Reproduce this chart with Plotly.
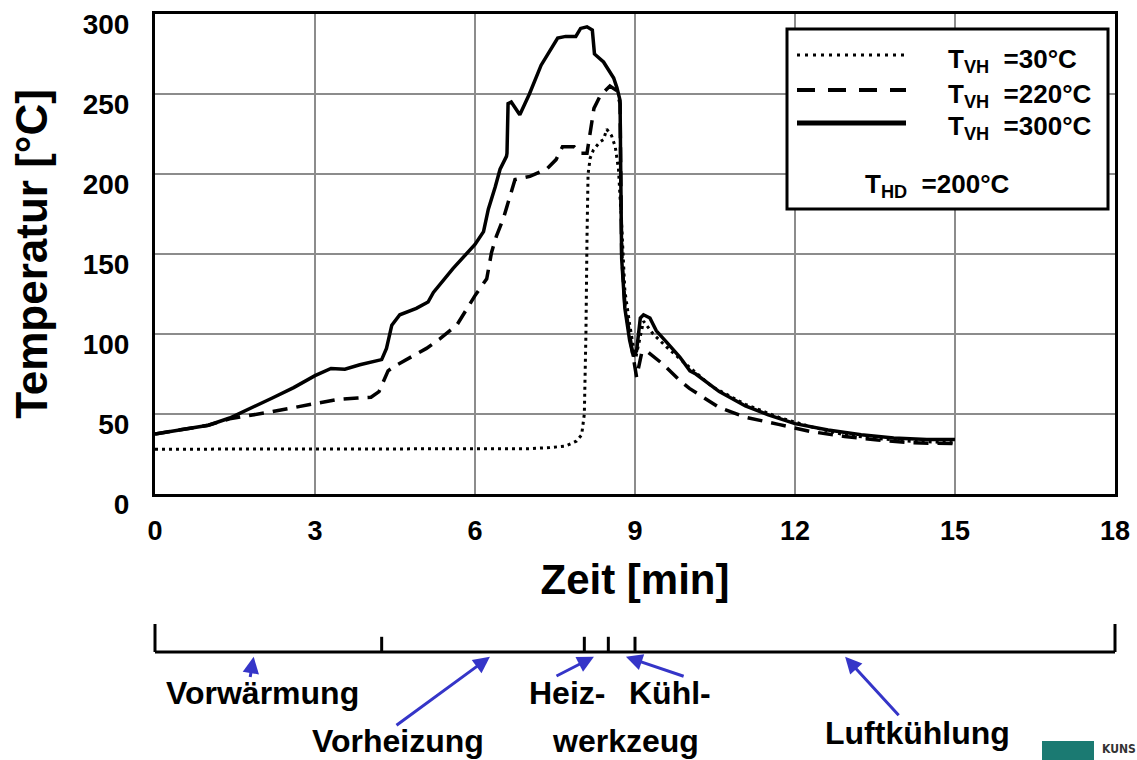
import plotly.graph_objects as go

# ---------------- data ----------------
t_300 = [0.0, 0.3, 0.6, 1.0, 1.4, 1.8, 2.2, 2.6, 3.0, 3.3, 3.56, 3.84, 4.09, 4.25, 4.34, 4.44,
         4.59, 4.9, 5.12, 5.22, 5.59, 6.0, 6.16, 6.25, 6.38, 6.47, 6.59, 6.6, 6.62, 6.68, 6.84,
         7.02, 7.24, 7.55, 7.70, 7.89, 7.98, 8.1, 8.2, 8.24, 8.41, 8.6, 8.66, 8.72, 8.73, 8.75,
         8.81, 8.9, 8.97, 9.03, 9.1, 9.16, 9.28, 9.4, 9.6, 9.84, 10.03, 10.14, 10.58, 11.07,
         11.5, 12.0, 12.62, 13.24, 13.85, 14.47, 15.0]
T_300 = [37.5, 39, 40.5, 43, 47.5, 53.5, 60, 66.5, 74, 78.5, 78, 80.8, 83, 84, 91, 105.5,
         112, 116, 120, 126, 141, 156, 164, 178, 192, 203, 211, 213, 244, 245, 237,
         250, 268, 285, 286, 286, 291, 292, 290, 275, 270, 260, 254, 246, 209, 147,
         116, 96, 86, 89.5, 110, 112, 110, 102, 94.6, 85.6, 77, 75, 64, 55,
         49.5, 44, 40, 37, 35, 34, 34]

t_220 = [0.0, 0.3, 0.6, 1.0, 1.4, 1.8, 2.2, 2.6, 3.0, 3.4, 3.8, 4.05, 4.2, 4.3, 4.37, 4.5,
         4.66, 5.09, 5.34, 5.66, 6.0, 6.22, 6.31, 6.4, 6.53, 6.66, 6.75, 7.03, 7.34, 7.52,
         7.64, 7.86, 7.98, 8.1, 8.16, 8.23, 8.35, 8.53, 8.66, 8.72, 8.73, 8.75, 8.81, 8.9,
         8.97, 9.03, 9.08, 9.13, 9.25, 9.53, 9.84, 10.02, 10.58, 11.07, 11.69, 12.3, 12.93,
         13.55, 14.16, 15.0]
T_220 = [37.5, 39, 40.5, 43, 47, 49, 51.5, 54, 56.5, 59, 60, 60.5, 64, 72, 77, 80,
         83, 91, 97, 105.6, 124, 134.5, 151, 161, 172, 186, 196.5, 198.5, 203, 209,
         217, 217, 213, 213, 227, 241, 249, 255, 252, 244, 209, 150, 118, 98,
         85, 73, 80, 89, 88.5, 81, 71, 66, 54, 48, 43.5, 39, 36,
         33.7, 32, 31.5]

t_30 = [0.0, 1.0, 2.0, 3.0, 4.0, 5.0, 6.0, 7.0, 7.4, 7.7, 7.9, 8.0, 8.05, 8.08, 8.1, 8.12,
        8.16, 8.22, 8.34, 8.41, 8.47, 8.56, 8.63, 8.69, 8.75, 8.81, 8.9, 8.97, 9.02, 9.08,
        9.16, 9.34, 9.6, 9.96, 10.45, 11.07, 11.69, 12.3, 12.93, 13.55, 14.16, 15.0]
T_30 = [28, 28, 28, 28, 28, 28, 28, 28.3, 29, 30, 33, 37, 50, 100, 160, 200,
        210, 215, 220, 221.5, 228, 224, 217, 203, 168, 127, 106, 92, 86, 95,
        108, 100, 91.6, 81, 67, 56, 48, 42, 37, 34.7, 33, 32]

series_names = ["T<sub>VH</sub>  =30°C", "T<sub>VH</sub>  =220°C", "T<sub>VH</sub>  =300°C"]
note_text = "T<sub>HD</sub>  =200°C"

x_ticks = [0, 3, 6, 9, 12, 15, 18]
y_ticks = [0, 50, 100, 150, 200, 250, 300]

# process phases (bottom time bar)
phase_bounds = [0, 4.25, 8.05, 8.5, 9.0, 18]
arrow_head_t = [1.85, 6.28, 8.23, 8.83, 12.94]
arrow_tail_t = [1.78, 4.5, 7.5, 9.94, 13.97]
phase_labels = ["Vorwärmung", "Vorheizung", "Heiz-", "Kühl-", "werkzeug", "Luftkühlung"]

# ---------------- layout helpers (pixels -> paper) ----------------
W, H = 1137, 760
def px(x):
    return x / W
def py(y):
    return 1 - y / H

FONT = "Liberation Sans, Arial, sans-serif"
BLUE = "#3535c8"

fig = go.Figure()

styles = [dict(dash="3px,4px", width=3), dict(dash="15px,9px", width=3.5), dict(dash="solid", width=3.5)]
for tt, TT, nm, st in zip([t_30, t_220, t_300], [T_30, T_220, T_300], series_names, styles):
    fig.add_trace(go.Scatter(x=tt, y=TT, mode="lines", name=nm,
                             line=dict(color="black", width=st["width"], dash=st["dash"]),
                             xaxis="x", yaxis="y", showlegend=False))

# time bar on a second (hidden) axis pair sharing the same time scale
BASE = 0.675
END_TOP = 0.85
MID_TOP = 0.77
bx, by = [], []
for i, b in enumerate(phase_bounds):
    top = END_TOP if i in (0, len(phase_bounds) - 1) else MID_TOP
    bx += [b, b, None]
    by += [BASE, top, None]
bx += [phase_bounds[0], phase_bounds[-1]]
by += [BASE, BASE]
fig.add_trace(go.Scatter(x=bx, y=by, mode="lines", line=dict(color="black", width=3),
                         xaxis="x2", yaxis="y2", showlegend=False, hoverinfo="skip"))

ann = []
tail_y = [0.51, 0.21, 0.52, 0.52, 0.27]
for h, tl, ty in zip(arrow_head_t, arrow_tail_t, tail_y):
    ann.append(dict(x=h, y=0.645, xref="x2", yref="y2", ax=tl, ay=ty, axref="x2", ayref="y2",
                    text="", showarrow=True, arrowhead=2, arrowsize=1.1, arrowwidth=3,
                    arrowcolor=BLUE, standoff=0, startstandoff=0))

label_pos = [(262, 693), (398, 741), (567, 693), (670, 693), (625, 741), (918, 733)]
for lab, (lx, ly) in zip(phase_labels, label_pos):
    ann.append(dict(x=px(lx), y=py(ly), xref="paper", yref="paper", text=lab, showarrow=False,
                    xanchor="center", yanchor="middle",
                    font=dict(family=FONT, size=32, color="black", weight="bold")))

# legend box contents
legend_rows_y = [61, 95, 128]
for nm, ry in zip(series_names, legend_rows_y):
    ann.append(dict(x=px(946), y=py(ry), xref="paper", yref="paper", text=nm, showarrow=False,
                    xanchor="left", yanchor="middle",
                    font=dict(family=FONT, size=26, color="black", weight="bold")))
ann.append(dict(x=px(863), y=py(185), xref="paper", yref="paper", text=note_text, showarrow=False,
                xanchor="left", yanchor="middle",
                font=dict(family=FONT, size=26, color="black", weight="bold")))

# logo fragment
ann.append(dict(x=px(1100), y=py(749), xref="paper", yref="paper", text="KUNS", showarrow=False,
                xanchor="left", yanchor="middle",
                font=dict(family="DejaVu Sans Condensed, Liberation Sans Narrow, sans-serif",
                          size=12, color="#333333", weight="bold")))

shapes = [
    dict(type="rect", xref="paper", yref="paper", x0=px(787), y0=py(29), x1=px(1108), y1=py(209),
         line=dict(color="black", width=3), fillcolor="white", layer="above"),
    dict(type="line", xref="paper", yref="paper", x0=px(797), x1=px(906), y0=py(55), y1=py(55),
         line=dict(color="black", width=3, dash="3px,5px")),
    dict(type="line", xref="paper", yref="paper", x0=px(797), x1=px(906), y0=py(90), y1=py(90),
         line=dict(color="black", width=4, dash="18px,13px")),
    dict(type="line", xref="paper", yref="paper", x0=px(797), x1=px(906), y0=py(123), y1=py(123),
         line=dict(color="black", width=5)),
    dict(type="rect", xref="paper", yref="paper", x0=px(1042), y0=py(741), x1=px(1094), y1=py(762),
         line=dict(width=0), fillcolor="#1b7a72"),
]

fig.update_layout(
    width=W, height=H,
    margin=dict(l=0, r=0, t=0, b=0, autoexpand=False),
    paper_bgcolor="white", plot_bgcolor="white",
    showlegend=False,
    xaxis=dict(domain=[px(155), px(1115)], range=[0, 18], tickvals=x_ticks, anchor="y",
               showgrid=True, gridcolor="#8c8c8c", gridwidth=2, zeroline=False,
               showline=True, linecolor="black", linewidth=3, mirror=True, ticks="",
               ticklabelstandoff=11, ticklabeloverflow="allow",
               tickfont=dict(family=FONT, size=27, color="black", weight="bold"),
               title=dict(text="Zeit [min]", standoff=20,
                          font=dict(family=FONT, size=42, color="black", weight="bold"))),
    yaxis=dict(domain=[py(494), py(14)], range=[0, 300], tickvals=y_ticks, anchor="x",
               showgrid=True, gridcolor="#8c8c8c", gridwidth=2, zeroline=False,
               showline=True, linecolor="black", linewidth=3, mirror=True, ticks="",
               ticklabelstandoff=17, ticklabelshift=10, ticklabeloverflow="allow",
               tickfont=dict(family=FONT, size=28, color="black", weight="bold"),
               title=dict(text="Temperatur [°C]", standoff=22,
                          font=dict(family=FONT, size=44, color="black", weight="bold"))),
    xaxis2=dict(domain=[px(150), px(1120)], range=[-5 / 53.3333, 18 + 5 / 53.3333], anchor="y2",
                visible=False),
    yaxis2=dict(domain=[0, 160 / H], range=[0, 1], anchor="x2", visible=False),
    annotations=ann,
    shapes=shapes,
)

fig.write_html("out.html")
